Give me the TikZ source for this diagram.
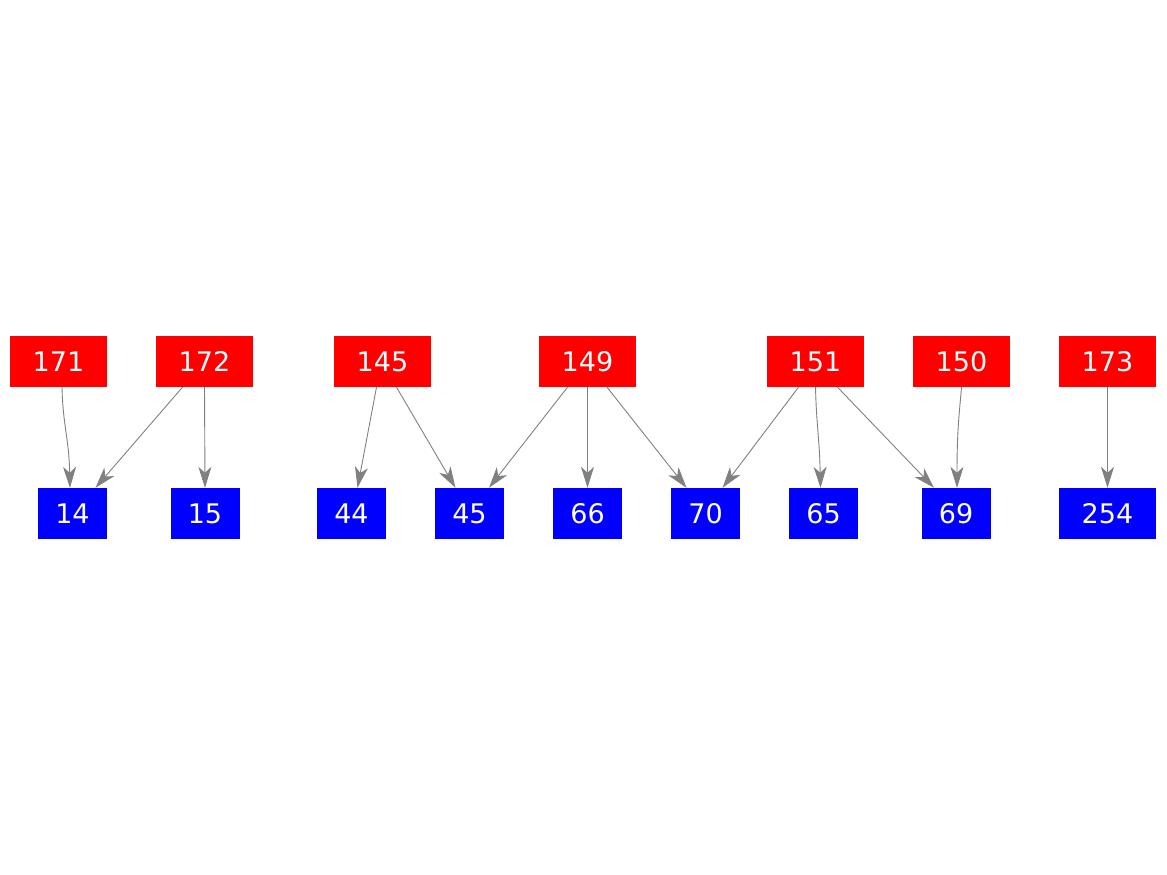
\documentclass[tikz,border=0pt]{standalone}
\usepackage{fontspec}
\setmainfont{DejaVu Sans}
\usetikzlibrary{arrows.meta}
\tikzset{
  src/.style={rectangle, fill={rgb,255:red,255;green,0;blue,0}, text=white, minimum width=97pt, minimum height=51pt, inner sep=0pt, font=\fontsize{27}{30}\selectfont},
  dst/.style={rectangle, fill={rgb,255:red,0;green,0;blue,255}, text=white, minimum width=69pt, minimum height=51pt, inner sep=0pt, font=\fontsize{27}{30}\selectfont},
  wide/.style={minimum width=97pt},
  edge/.style={draw={rgb,255:red,128;green,128;blue,128}, line width=0.9pt, -{Stealth[length=21pt,width=13pt,inset=6pt]}}
}
\begin{document}
\begin{tikzpicture}[x=1pt,y=-1pt]
\useasboundingbox (0,0) rectangle (1167,875);
% top row
\node[src] (n171) at (58.5,361.5) {171};
\node[src] (n172) at (204.5,361.5) {172};
\node[src] (n145) at (382.5,361.5) {145};
\node[src] (n149) at (587.5,361.5) {149};
\node[src] (n151) at (815.5,361.5) {151};
\node[src] (n150) at (961.5,361.5) {150};
\node[src] (n173) at (1107.5,361.5) {173};
% bottom row
\node[dst] (n14) at (72.5,513.5) {14};
\node[dst] (n15) at (205,513.5) {15};
\node[dst] (n44) at (351.5,513.5) {44};
\node[dst] (n45) at (469.5,513.5) {45};
\node[dst] (n66) at (587.5,513.5) {66};
\node[dst] (n70) at (705.5,513.5) {70};
\node[dst] (n65) at (823.5,513.5) {65};
\node[dst] (n69) at (956,513.5) {69};
\node[dst,wide] (n254) at (1107.5,513.5) {254};
% edges
\draw[edge] ([xshift=3.5pt]n171.south) .. controls ([xshift=4.5pt,yshift=-40pt]n171.south) and ([xshift=-3.5pt,yshift=50pt]n14.north) .. ([xshift=-2.5pt]n14.north);
\draw[edge] ([xshift=-22pt]n172.south) -- ([xshift=23pt]n14.north);
\draw[edge] (n172.south) -- (n15.north);
\draw[edge] ([xshift=-6pt]n145.south) -- ([xshift=6pt]n44.north);
\draw[edge] ([xshift=14pt]n145.south) -- ([xshift=-14pt]n45.north);
\draw[edge] ([xshift=-20pt]n149.south) -- ([xshift=19.5pt]n45.north);
\draw[edge] (n149.south) -- (n66.north);
\draw[edge] ([xshift=19.5pt]n149.south) -- ([xshift=-19pt]n70.north);
\draw[edge] ([xshift=-17pt]n151.south) -- ([xshift=17pt]n70.north);
\draw[edge] (n151.south) .. controls ([xshift=1pt,yshift=-40pt]n151.south) and ([xshift=-4pt,yshift=50pt]n65.north) .. ([xshift=-3pt]n65.north);
\draw[edge] ([xshift=22pt]n151.south) -- ([xshift=-22pt]n69.north);
\draw[edge] (n150.south) .. controls ([xshift=-2pt,yshift=-25pt]n150.south) and ([xshift=1pt,yshift=60pt]n69.north) .. ([xshift=1pt]n69.north);
\draw[edge] (n173.south) -- (n254.north);
\end{tikzpicture}
\end{document}
